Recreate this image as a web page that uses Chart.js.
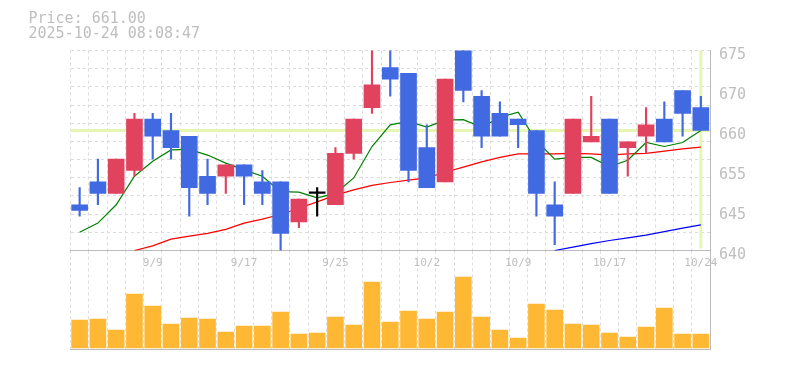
<!DOCTYPE html>
<html>
<head>
<meta charset="utf-8">
<script src="https://cdn.jsdelivr.net/npm/chart.js@4/dist/chart.umd.min.js"></script>
<style>
html, body { margin: 0; padding: 0; background: #fff; }
#wrap { position: relative; width: 785px; height: 370px; overflow: hidden; }
#wrap canvas { position: absolute; left: 0; top: 0; }
#info { position: absolute; left: 28.5px; top: 11px; font: 15px/15.3px "DejaVu Sans Mono", monospace; color: #bebebe; white-space: pre; }
</style>
</head>
<body>
<div id="wrap">
  <canvas id="volChart" width="785" height="370"></canvas>
  <canvas id="priceChart" width="785" height="370"></canvas>
  <div id="info"></div>
</div>
<script>
// trading days shown
const dates = ['9/3','9/4','9/5','9/8','9/9','9/10','9/11','9/12','9/16','9/17','9/18','9/19','9/22','9/24','9/25',
  '9/26','9/29','9/30','10/1','10/2','10/3','10/6','10/7','10/8','10/9','10/10','10/14','10/15','10/16','10/17',
  '10/20','10/21','10/22','10/23','10/24'];
const xTickLabels = ['9/9','9/17','9/25','10/2','10/9','10/17','10/24'];

const openPrices  = [648,652,650,654,663,661,660,653,653,655,652,652,645,650,648,657,665,672,671,658,652,676,667,664,663,661,648,650,659,663,658,660,663,668,665];
const closePrices = [647,650,656,663,660,658,651,650,655,653,650,643,649,650,657,663,669,670,654,651,670,668,660,660,662,650,646,663,660,650,659,662,659,664,661];
const highPrices  = [651,656,656,664,664,664,660,656,655,655,654,652,649,651,658,663,677,678,671,662,670,677,668,666,663,661,652,663,667,663,659,665,666,668,667];
const lowPrices   = [646,648,650,653,656,656,646,648,650,648,648,640,644,646,648,656,664,667,652,651,652,666,658,660,658,646,641,650,659,650,653,657,659,660,661];

// moving averages (green / red / blue)
const ma5 = [643.2,644.8,648.0,653.0,655.6,657.6,657.7,656.7,655.3,654.1,653.0,650.3,650.2,649.2,650.0,652.7,658.2,662.0,
  662.6,661.6,662.8,662.9,661.6,663.3,664.2,659.2,656.0,656.3,656.3,654.7,655.8,658.9,658.2,658.9,661.0];
const ma25 = [null,null,null,640.0,640.8,642.0,642.5,643.0,643.7,644.8,645.5,646.3,647.4,648.5,649.7,650.6,651.4,651.9,
  652.3,652.7,653.7,654.6,655.5,656.3,656.9,656.9,656.9,657.0,656.9,656.7,656.9,657.0,657.4,657.8,658.1];
const ma75 = [null,null,null,null,null,null,null,null,null,null,null,null,null,null,null,null,null,null,null,null,null,null,
  null,null,null,null,640.0,640.6,641.2,641.75,642.2,642.7,643.3,643.9,644.5];

const volumes = [28,29,18,54,42,24,30,29,16,22,22,36,14,15,31,23,66,26,37,29,36,71,31,18,10,44,38,24,23,15,11,21,40,14,14];

const currentPrice = 661;
const timestamp = '2025-10-24 08:08:47';
const yTickLabels = ['640','645','655','660','670','675'];
const yMin = 640, yMax = 675;

const UP = '#e1435f', DOWN = '#4169e1', DOJI = '#000000';
const GRID = '#dcdcdc', AXIS = '#bbbbbb', TXT = '#bebebe';
const MONO = 'DejaVu Sans Mono';

document.getElementById('info').textContent = 'Price: ' + currentPrice.toFixed(2) + '\n' + timestamp;

const candleColors = openPrices.map((o, i) => closePrices[i] > o ? UP : (closePrices[i] < o ? DOWN : DOJI));

const priceLinePlugin = {
  id: 'priceLine',
  beforeDatasetsDraw(chart) {
    const { ctx, chartArea: a, scales: { x, y } } = chart;
    const py = y.getPixelForValue(currentPrice);
    const px = x.getPixelForValue(dates.length - 1);
    ctx.save();
    ctx.strokeStyle = '#e6f5b4';
    ctx.lineWidth = 3;
    ctx.beginPath();
    ctx.moveTo(a.left, py); ctx.lineTo(a.right, py);
    ctx.moveTo(px, a.top); ctx.lineTo(px, a.bottom - 2);
    ctx.stroke();
    ctx.restore();
  }
};

function maLine(data, color) {
  return { type: 'line', data: data, borderColor: color, borderWidth: 1.2, pointRadius: 0, fill: false, tension: 0, order: 3, yAxisID: 'y' };
}

new Chart(document.getElementById('priceChart'), {
  type: 'bar',
  data: {
    labels: dates,
    datasets: [
      maLine(ma5, '#008000'),
      maLine(ma25, '#ff0000'),
      maLine(ma75, '#0000ff'),
      {
        data: lowPrices.map((l, i) => [l, highPrices[i]]),
        backgroundColor: candleColors, barThickness: 1.5, grouped: false, clip: 0, order: 2, yAxisID: 'y'
      },
      {
        data: openPrices.map((o, i) => [o, closePrices[i]]),
        backgroundColor: candleColors, barThickness: 16, minBarLength: 1.5, grouped: false, clip: 0, order: 1, yAxisID: 'y'
      }
    ]
  },
  options: {
    responsive: false,
    animation: false,
    layout: { padding: { left: 70.5, top: 50.5, right: 0, bottom: 99.5 } },
    plugins: { legend: { display: false }, tooltip: { enabled: false } },
    scales: {
      x: {
        offset: true,
        grid: { offset: true, color: GRID, drawTicks: false },
        border: { color: AXIS, dash: [3, 3] },
        ticks: {
          autoSkip: false, maxRotation: 0, minRotation: 0, padding: 6, color: TXT,
          font: { family: MONO, size: 11 },
          callback: (v, i) => xTickLabels.includes(dates[i]) ? dates[i] : ''
        },
        afterFit: s => { s.height = 20; }
      },
      y: {
        position: 'left', min: yMin, max: yMax,
        grid: { color: GRID, drawTicks: false },
        border: { display: false, dash: [3, 3] },
        ticks: { display: false },
        afterBuildTicks: s => { s.ticks = Array.from({ length: 12 }, (_, i) => ({ value: yMin + i * (yMax - yMin) / 11 })); },
        afterFit: s => { s.width = 0; }
      },
      yr: {
        position: 'right', min: yMin, max: yMax,
        grid: { display: false, drawTicks: false },
        border: { color: AXIS },
        ticks: {
          autoSkip: false, padding: 9, labelOffset: 4.5, color: TXT,
          font: { family: MONO, size: 15 },
          callback: (v, i) => yTickLabels[i]
        },
        afterBuildTicks: s => { s.ticks = yTickLabels.map((_, i) => ({ value: yMin + i * (yMax - yMin) / (yTickLabels.length - 1) })); },
        afterFit: s => { s.width = 75; }
      }
    }
  },
  plugins: [priceLinePlugin]
});

new Chart(document.getElementById('volChart'), {
  type: 'bar',
  data: {
    labels: dates,
    datasets: [{ data: volumes, backgroundColor: '#ffb834', barThickness: 16, clip: 0 }]
  },
  options: {
    responsive: false,
    animation: false,
    layout: { padding: { left: 70.5, top: 250.5, right: 0, bottom: 20.5 } },
    plugins: { legend: { display: false }, tooltip: { enabled: false } },
    scales: {
      x: {
        offset: true,
        grid: { offset: true, color: GRID, drawTicks: false },
        border: { color: AXIS, dash: [3, 3] },
        ticks: { display: false },
        afterFit: s => { s.height = 0; }
      },
      y: {
        position: 'right', min: -1.5, max: 97.5,
        grid: { display: false, drawTicks: false },
        border: { color: AXIS },
        ticks: { display: false },
        afterFit: s => { s.width = 75; }
      }
    }
  }
});
</script>
</body>
</html>
